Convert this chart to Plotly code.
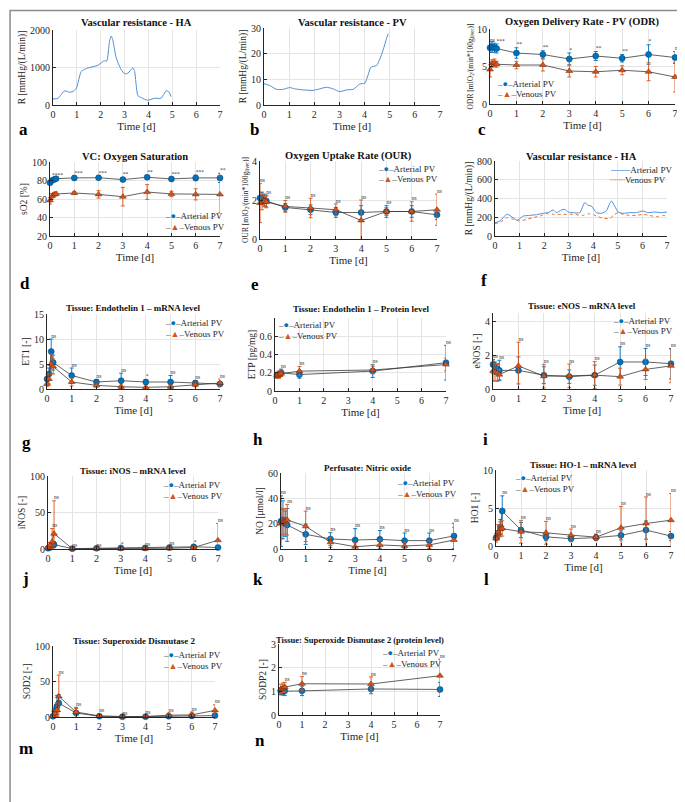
import plotly.graph_objects as go

W, H = 685, 802
ART = '#0072BD'
VEN = '#D95319'
LINE = '#3a3a3a'
CURVE = '#4f8fd6'
CURVE2 = '#e0703c'
SERIF = 'Liberation Serif'

# ---------------- data ----------------
T = [0, 0.08, 0.17, 0.25, 1, 2, 3, 4, 5, 6, 7]
TP = [0.08, 0.17, 0.25, 1, 4, 7]

# a: vascular resistance HA
ha_t = [0, 0.21, 0.49, 0.7, 0.84, 0.98, 1.19, 1.46, 1.88, 2.16, 2.25, 2.37, 2.44, 2.5, 2.65,
        2.86, 3.0, 3.14, 3.35, 3.42, 3.56, 3.7, 3.97, 4.25, 4.53, 4.74, 4.85, 4.95]
ha_r = [161, 180, 377, 340, 358, 448, 897, 987, 1058, 1184, 1166, 1700, 1838, 1750, 1255,
        942, 834, 850, 987, 897, 250, 197, 125, 180, 180, 377, 358, 224]

# b: vascular resistance PV
pv_t = [0, 0.23, 0.49, 0.76, 1.02, 1.22, 1.55, 1.95, 2.22, 2.48, 2.75, 3.01, 3.28, 3.55,
        3.81, 4.01, 4.14, 4.24, 4.34, 4.48, 4.61, 4.74, 4.87, 4.94]
pv_r = [8.3, 7.6, 6.1, 6.1, 6.8, 6.3, 5.9, 5.7, 6.3, 6.9, 6.3, 5.2, 5.9, 6.1,
        8.2, 8.5, 11.7, 14.6, 15, 15.4, 18, 21.5, 25.8, 27.8]

# f: vascular resistance HA, arterial vs venous PV
fa_t = [0, 0.2, 0.47, 0.6, 0.88, 1.01, 1.15, 1.42, 1.69, 1.96, 2.16, 2.37, 2.5, 2.7, 2.84,
        2.98, 3.18, 3.45, 3.65, 3.79, 3.92, 4.13, 4.33, 4.53, 4.67, 4.74, 4.87, 5.01, 5.21,
        5.48, 5.75, 6.02, 6.22, 6.5, 6.77, 7.0]
fa_r = [142, 160, 231, 220, 171, 185, 213, 220, 228, 242, 249, 277, 249, 277, 284,
        256, 249, 249, 356, 327, 320, 249, 242, 267, 348, 373, 320, 256, 242,
        249, 249, 267, 249, 256, 249, 256]
fv_t = [0, 0.2, 0.47, 0.74, 1.01, 1.29, 1.56, 1.83, 2.1, 2.37, 2.77, 3.18, 3.59, 3.86,
        4.13, 4.4, 4.67, 4.87, 5.01, 5.21, 5.48, 5.75, 6.02, 6.29, 6.56, 6.83, 7.0]
fv_r = [135, 142, 196, 178, 160, 178, 196, 213, 238, 231, 231, 231, 220, 238,
        213, 188, 188, 231, 249, 231, 220, 220, 231, 220, 206, 220, 213]

# c: ODR
odr_a = [7.5, 7.6, 7.5, 7.4, 6.8, 6.6, 6.0, 6.4, 6.1, 6.6, 6.2]
odr_a_sd = [0.6, 0.7, 0.6, 0.6, 0.7, 0.5, 0.8, 0.6, 0.5, 1.3, 0.8]
odr_v = [4.6, 5.4, 5.5, 5.3, 5.2, 5.2, 4.4, 4.3, 4.5, 4.3, 3.6]
odr_v_sd = [1.0, 0.5, 0.5, 0.4, 0.5, 0.8, 0.8, 0.7, 0.6, 1.2, 2.0]
odr_sig = ['ns', '', '', '***', '**', '**', '*', '**', '**', '*', 'ns']

# d: sO2
so2_a = [77.5, 80, 81, 82, 82.8, 83, 81, 83.5, 81.7, 82.8, 82.8]
so2_a_sd = [2, 2, 2, 2, 2, 1, 2, 2, 2, 3, 5]
so2_v = [58.5, 63, 65, 65.5, 66.5, 65, 62.5, 67.5, 65.5, 65, 65]
so2_v_sd = [4, 3, 2, 2, 1.5, 4, 10, 8, 3, 6, 20]
so2_sig = ['', '****', '', '', '***', '***', '**', '**', '***', '***', '**']

# e: OUR
our_a = [2.1, 2.1, 2.0, 1.95, 1.62, 1.5, 1.36, 1.36, 1.41, 1.41, 1.24]
our_a_sd = [0.3, 0.3, 0.3, 0.3, 0.2, 0.25, 0.25, 0.35, 0.3, 0.3, 0.25]
our_v = [1.84, 1.9, 1.95, 1.9, 1.67, 1.59, 1.5, 0.95, 1.41, 1.41, 1.5]
our_v_sd = [1.0, 0.4, 0.3, 0.3, 0.3, 0.5, 0.3, 1.05, 0.2, 0.5, 0.8]
our_sig = ['ns', '', '', 'ns', 'ns', 'ns', 'ns', 'ns', 'ns', 'ns', 'ns']

# g: ET1 mRNA
et1_a = [2.0, 3.0, 7.5, 5.3, 2.7, 1.4, 1.66, 1.4, 1.4, 1.2, 1.0]
et1_a_sd = [1.0, 1.2, 2.5, 1.5, 1.5, 0.5, 1.5, 0.5, 1.3, 0.5, 0.3]
et1_v = [1.0, 2.0, 5.0, 4.5, 1.4, 0.73, 0.46, 0.33, 0.46, 0.86, 1.2]
et1_v_sd = [0.5, 1.0, 2.0, 1.5, 0.8, 0.4, 0.3, 0.2, 0.3, 0.4, 0.8]
et1_sig = ['', '', 'ns', '', 'ns', 'ns', 'ns', '*', 'ns', 'ns', 'ns']

# h: ET1 protein
etp_a = [0.175, 0.18, 0.2, 0.18, 0.218, 0.31]
etp_a_sd = [0.03, 0.03, 0.04, 0.04, 0.07, 0.19]
etp_v = [0.17, 0.18, 0.19, 0.218, 0.23, 0.29]
etp_v_sd = [0.03, 0.04, 0.03, 0.05, 0.04, 0.07]
etp_sig = ['', '', 'ns', 'ns', 'ns', 'ns']

# i: eNOS
enos_a = [1.45, 1.3, 1.2, 1.1, 1.1, 0.82, 0.73, 0.82, 1.6, 1.6, 1.5]
enos_a_sd = [0.3, 0.3, 0.3, 0.6, 0.8, 0.5, 0.4, 0.6, 0.9, 0.8, 0.9]
enos_v = [1.06, 1.0, 0.95, 0.85, 1.37, 0.76, 0.78, 0.82, 0.73, 1.16, 1.37]
enos_v_sd = [0.6, 0.5, 0.5, 0.3, 1.4, 0.7, 0.7, 0.8, 0.5, 0.6, 1.0]
enos_sig = ['ns', '', '', 'ns', 'ns', 'ns', 'ns', 'ns', 'ns', 'ns', 'ns']

# j: iNOS
inos_a = [1, 2, 5, 6, 0.5, 1, 1.5, 1.5, 2, 3, 2]
inos_a_sd = [1, 2, 3, 4, 0.5, 0.5, 0.5, 0.5, 1, 1.5, 1]
inos_v = [2, 5, 10, 21, 0.5, 0.5, 0.5, 0.5, 1, 2, 12]
inos_v_sd = [2, 4, 18, 45, 0.5, 0.5, 0.5, 0.5, 0.8, 1.5, 23]
inos_sig = ['', '', 'ns', 'ns', 'ns', 'ns', '*', 'ns', 'ns', '*', 'ns']

# k: NO
no_a = [22, 23, 20, 19, 11.6, 7.9, 7.1, 7.6, 6.6, 6.6, 10.3]
no_a_sd = [20, 15, 10, 13, 8, 5, 9, 7, 6, 6, 10]
no_v = [20, 21, 22, 23, 17.9, 5.3, 1.8, 3.2, 2.4, 3.2, 7.1]
no_v_sd = [12, 10, 10, 12, 12, 4, 3, 4, 3, 3, 10]
no_sig = ['ns', '', '', 'ns', 'ns', 'ns', 'ns', 'ns', 'ns', 'ns', 'ns']

# l: HO-1
ho_a = [1.1, 1.5, 2.5, 4.6, 2.1, 1.2, 0.96, 1.1, 1.4, 2.1, 1.3]
ho_a_sd = [0.3, 0.5, 1.0, 2.0, 1.0, 0.5, 0.4, 0.4, 0.6, 1.2, 0.6]
ho_v = [1.0, 1.8, 2.2, 2.3, 1.87, 1.74, 1.43, 1.17, 2.4, 2.96, 3.4]
ho_v_sd = [0.5, 1, 1, 1, 1.5, 1.5, 0.8, 0.4, 2.8, 3.5, 3.5]
ho_sig = ['', '', '', 'ns', 'ns', 'ns', 'ns', 'ns', 'ns', 'ns', 'ns']

# m: SOD2
sod_a = [1, 8, 15, 19.6, 5.6, 1, 0.5, 0.5, 1, 1.5, 2]
sod_a_sd = [1, 5, 15, 12, 8, 1, 0.5, 0.5, 1, 1, 1]
sod_v = [1, 5, 10, 29, 7, 1.5, 0.5, 0.8, 2.5, 3, 9.3]
sod_v_sd = [1, 5, 10, 30, 5, 3, 1, 1, 3, 4, 8]
sod_sig = ['', '', '', 'ns', 'ns', 'ns', 'ns', 'ns', 'ns', 'ns', 'ns']

# n: SOD2 protein
sodp_a = [1.0, 1.0, 1.02, 1.02, 1.1, 1.08]
sodp_a_sd = [0.15, 0.15, 0.2, 0.2, 0.2, 0.3]
sodp_v = [1.1, 1.15, 1.18, 1.32, 1.31, 1.66]
sodp_v_sd = [0.2, 0.2, 0.2, 0.3, 0.3, 0.7]
sodp_sig = ['', '', 'ns', 'ns', 'ns', 'ns']

X_TICKS = [0, 1, 2, 3, 4, 5, 6, 7]

# ---------------- figure ----------------
fig = go.Figure()
layout = dict(width=W, height=H, margin=dict(l=0, r=0, t=0, b=0),
              paper_bgcolor='white', plot_bgcolor='white', showlegend=False,
              font=dict(family=SERIF, color='#262626'))
annotations = []
shapes = []


def px_x(x):
    return x / W


def px_y(y):
    return 1 - y / H


def refs(n):
    return ('x' if n == 1 else f'x{n}'), ('y' if n == 1 else f'y{n}')


def add_axes(n, x0, x1, ytop, ybot, yr, yt, ytitle, title, ty, tsize, letter, lpos, ysize=9.5):
    kx = 'xaxis' if n == 1 else f'xaxis{n}'
    ky = 'yaxis' if n == 1 else f'yaxis{n}'
    xa, ya = refs(n)
    layout[kx] = dict(domain=[px_x(x0), px_x(x1)], range=[0, 7], tickvals=X_TICKS,
                      anchor=ya, ticks='inside', ticklen=3, tickcolor='#262626',
                      showline=True, linecolor='#262626', linewidth=1,
                      showgrid=True, gridcolor='#e4e4e4', zeroline=False,
                      tickfont=dict(size=10, family=SERIF),
                      title=dict(text='Time [d]', font=dict(size=11, family=SERIF), standoff=2),
                      automargin=False)
    layout[ky] = dict(domain=[px_y(ybot), px_y(ytop)], range=yr, tickvals=yt,
                      anchor=xa, ticks='inside', ticklen=3, tickcolor='#262626',
                      showline=True, linecolor='#262626', linewidth=1,
                      showgrid=True, gridcolor='#e4e4e4', zeroline=False,
                      tickfont=dict(size=10, family=SERIF),
                      title=dict(text=ytitle, font=dict(size=ysize, family=SERIF), standoff=2),
                      automargin=False)
    annotations.append(dict(x=px_x((x0 + x1) / 2), y=px_y(ty), xref='paper', yref='paper',
                            text=f'<b>{title}</b>', showarrow=False, xanchor='center',
                            yanchor='middle', font=dict(size=tsize, family=SERIF, color='#111')))
    annotations.append(dict(x=px_x(lpos[0]), y=px_y(lpos[1]), xref='paper', yref='paper',
                            text=f'<b>{letter}</b>', showarrow=False, xanchor='left',
                            yanchor='middle', font=dict(size=17, family=SERIF, color='#000')))


def err_panel(n, t, am, asd, vm, vsd, sig):
    xa, ya = refs(n)
    fig.add_trace(go.Scatter(x=t, y=am, mode='lines+markers', xaxis=xa, yaxis=ya,
                             line=dict(color=LINE, width=0.8), cliponaxis=False,
                             marker=dict(symbol='circle', size=6, color=ART,
                                         line=dict(color='#0b3d66', width=0.5)),
                             error_y=dict(type='data', array=asd, color=ART, thickness=0.9, width=2)))
    fig.add_trace(go.Scatter(x=t, y=vm, mode='lines+markers', xaxis=xa, yaxis=ya,
                             line=dict(color=LINE, width=0.8), cliponaxis=False,
                             marker=dict(symbol='triangle-up', size=6, color=VEN,
                                         line=dict(color='#6b2609', width=0.5)),
                             error_y=dict(type='data', array=vsd, color=VEN, thickness=0.9, width=2)))
    sx, sy, st = [], [], []
    for ti, a, s, v, w, lab in zip(t, am, asd, vm, vsd, sig):
        if lab:
            sx.append(ti)
            sy.append(max(a + s, v + w))
            st.append(lab)
    fig.add_trace(go.Scatter(x=sx, y=sy, mode='text', text=st, xaxis=xa, yaxis=ya,
                             textposition='top right', cliponaxis=False,
                             textfont=dict(size=5.5, family=SERIF, color='#333')))


def legend(xpx, ypx, kind='m'):
    if kind == 'm':
        t1 = (f'<span style="color:{LINE}">–</span><span style="color:{ART}">●</span>'
              f'<span style="color:{LINE}">–</span>Arterial PV')
        t2 = (f'<span style="color:{LINE}">–</span><span style="color:{VEN}">▲</span>'
              f'<span style="color:{LINE}">–</span>Venous PV')
    else:
        t1 = f'<span style="color:{CURVE}">───</span>Arterial PV'
        t2 = f'<span style="color:{CURVE2}">┄┄┄</span>Venous PV'
    for i, tx in enumerate([t1, t2]):
        annotations.append(dict(x=px_x(xpx), y=px_y(ypx + 10.5 * i), xref='paper', yref='paper',
                                text=tx, showarrow=False, xanchor='left', yanchor='middle',
                                font=dict(size=9, family=SERIF, color='#262626')))


R_T = 'R [mmHg/(L/min)]'
O_T = 'ODR [mlO<sub>2</sub>/(min*100g<sub>liver</sub>)]'
U_T = 'OUR [mlO<sub>2</sub>/(min*100g<sub>liver</sub>)]'

# Row 1
add_axes(1, 45, 212, 22, 97, [0, 2000], [0, 1000, 2000], R_T, 'Vascular resistance - HA', 14, 10.5, 'a', (9, 122))
add_axes(2, 256, 432, 20, 97, [0, 30], [0, 10, 20, 30], R_T, 'Vascular resistance - PV', 14, 10.5, 'b', (240, 122))
add_axes(3, 482, 667, 21, 96, [0, 10], [0, 5, 10], O_T, 'Oxygen Delivery Rate - PV (ODR)', 14, 10.5, 'c', (468, 122), ysize=7.5)
# Row 2
add_axes(4, 42, 212, 154, 228, [20, 100], [20, 40, 60, 80, 100], 'sO2 [%]', 'VC: Oxygen Saturation', 148, 10.5, 'd', (10, 275))
add_axes(5, 252, 429, 153, 231, [0, 4], [0, 2, 4], U_T, 'Oxygen Uptake Rate (OUR)', 148, 10.5, 'e', (241, 276), ysize=7.5)
add_axes(6, 487, 659, 153, 228, [0, 800], [0, 200, 400, 600, 800], R_T, 'Vascular resistance - HA', 148, 10.5, 'f', (471, 273))
# Row 3
add_axes(7, 39, 212, 306, 381, [0, 15], [0, 5, 10, 15], 'ET1 [-]', 'Tissue: Endothelin 1 – mRNA level', 300, 9, 'g', (12, 434))
add_axes(8, 267, 438, 310, 383, [0, 0.8], [0, 0.2, 0.4, 0.6], 'ETP [pg/mg]', 'Tissue: Endothelin 1 – Protein level', 301, 9, 'h', (243, 431))
add_axes(9, 485, 663, 305, 381, [0, 4.5], [0, 2, 4], 'eNOS [-]', 'Tissue: eNOS – mRNA level', 298, 9, 'i', (473, 431))
# Row 4
add_axes(10, 40, 210, 468, 541, [0, 100], [0, 50, 100], 'iNOS [-]', 'Tissue: iNOS – mRNA level', 463, 9, 'j', (12, 570))
add_axes(11, 273, 446, 465, 541, [0, 60], [0, 20, 40, 60], 'NO [μmol/l]', 'Perfusate: Nitric oxide', 460, 9, 'k', (243, 571))
add_axes(12, 488, 663, 462, 538, [0, 10], [0, 5, 10], 'HO1 [-]', 'Tissue: HO-1 – mRNA level', 457, 9, 'l', (474, 571))
# Row 5
add_axes(13, 45, 207, 638, 709, [0, 100], [0, 50, 100], 'SOD2 [-]', 'Tissue: Superoxide Dismutase 2', 633, 9, 'm', (9, 740))
add_axes(14, 271, 432, 636, 707, [0, 3], [0, 1, 2, 3], 'SODP2 [-]', 'Tissue: Superoxide Dismutase 2 (protein level)', 632, 8.5, 'n', (245, 732))

# continuous curves
fig.add_trace(go.Scatter(x=ha_t, y=ha_r, mode='lines', xaxis='x', yaxis='y',
                         line=dict(color=CURVE, width=1, shape='spline', smoothing=0.6)))
fig.add_trace(go.Scatter(x=pv_t, y=pv_r, mode='lines', xaxis='x2', yaxis='y2',
                         line=dict(color=CURVE, width=1, shape='spline', smoothing=0.6)))
fig.add_trace(go.Scatter(x=fv_t, y=fv_r, mode='lines', xaxis='x6', yaxis='y6',
                         line=dict(color=CURVE2, width=1, dash='dot', shape='spline', smoothing=0.6)))
fig.add_trace(go.Scatter(x=fa_t, y=fa_r, mode='lines', xaxis='x6', yaxis='y6',
                         line=dict(color=CURVE, width=1, shape='spline', smoothing=0.6)))

# error-bar panels
err_panel(3, T, odr_a, odr_a_sd, odr_v, odr_v_sd, odr_sig)
err_panel(4, T, so2_a, so2_a_sd, so2_v, so2_v_sd, so2_sig)
err_panel(5, T, our_a, our_a_sd, our_v, our_v_sd, our_sig)
err_panel(7, T, et1_a, et1_a_sd, et1_v, et1_v_sd, et1_sig)
err_panel(8, TP, etp_a, etp_a_sd, etp_v, etp_v_sd, etp_sig)
err_panel(9, T, enos_a, enos_a_sd, enos_v, enos_v_sd, enos_sig)
err_panel(10, T, inos_a, inos_a_sd, inos_v, inos_v_sd, inos_sig)
err_panel(11, T, no_a, no_a_sd, no_v, no_v_sd, no_sig)
err_panel(12, T, ho_a, ho_a_sd, ho_v, ho_v_sd, ho_sig)
err_panel(13, T, sod_a, sod_a_sd, sod_v, sod_v_sd, sod_sig)
err_panel(14, TP, sodp_a, sodp_a_sd, sodp_v, sodp_v_sd, sodp_sig)

# legends
legend(487, 76)
legend(155, 208)
legend(368, 161)
legend(600, 162, kind='l')
legend(155, 315)
legend(268, 317)
legend(603, 313)
legend(153, 477)
legend(387, 475)
legend(505, 470)
legend(153, 647)
legend(372, 645)

# outer frame
shapes.append(dict(type='rect', xref='paper', yref='paper', x0=0.003, x1=0.997, y0=0.004, y1=0.997,
                   line=dict(color='#8a8a8a', width=1.5)))

layout['annotations'] = annotations
layout['shapes'] = shapes
fig.update_layout(**layout)
fig.write_html('out.html')
